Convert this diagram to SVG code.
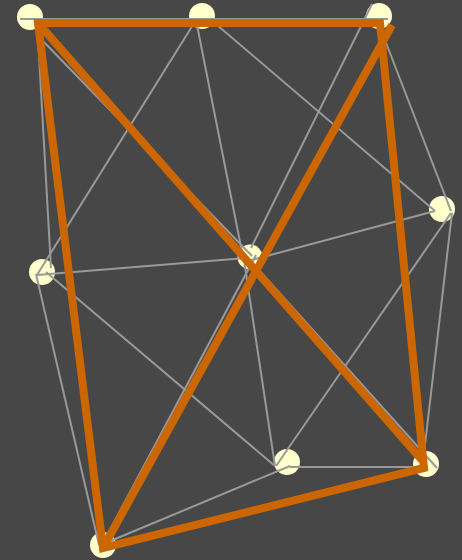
<svg xmlns="http://www.w3.org/2000/svg" width="462" height="560" viewBox="0 0 462 560">
<style>
.node{fill:#ffffcc;stroke:none}
.e{stroke:#999999;stroke-width:2;fill:none}
.o{stroke:#cc6600;stroke-width:8;fill:none;stroke-linejoin:miter}
</style>
<rect width="462" height="560" fill="#474747"/>
<g id="nodes">
<g id="A"><circle class="node" cx="30" cy="17" r="13"/></g>
<g id="B"><circle class="node" cx="202" cy="16" r="13"/></g>
<g id="C"><circle class="node" cx="379" cy="16" r="13"/></g>
<g id="D"><circle class="node" cx="442" cy="209" r="13"/></g>
<g id="E"><circle class="node" cx="250" cy="257" r="12.5"/></g>
<g id="F"><circle class="node" cx="42" cy="272" r="13"/></g>
<g id="G"><circle class="node" cx="287" cy="462" r="13"/></g>
<g id="H"><circle class="node" cx="426" cy="464" r="13"/></g>
<g id="I"><circle class="node" cx="103" cy="545" r="13"/></g>
</g>
<g id="connectors">
<line class="e" x1="20" y1="19" x2="388" y2="19"/>
<line class="e" x1="37" y1="20" x2="51" y2="268"/>
<line class="e" x1="39" y1="37" x2="252" y2="256"/>
<line class="e" x1="196" y1="20" x2="37" y2="275"/>
<line class="e" x1="196" y1="20" x2="243" y2="257"/>
<line class="e" x1="210" y1="19" x2="435" y2="211"/>
<line class="e" x1="372" y1="4" x2="251" y2="248"/>
<line class="e" x1="378" y1="22" x2="451" y2="211"/>
<line class="e" x1="37" y1="275" x2="246" y2="258"/>
<line class="e" x1="248" y1="261" x2="435" y2="211"/>
<line class="e" x1="244" y1="260" x2="275" y2="466"/>
<line class="e" x1="256" y1="255" x2="104" y2="541"/>
<line class="e" x1="250" y1="260" x2="437" y2="468"/>
<line class="e" x1="36" y1="274" x2="99" y2="545"/>
<line class="e" x1="46" y1="272" x2="275" y2="466"/>
<line class="e" x1="451" y1="213" x2="276" y2="466"/>
<line class="e" x1="452" y1="213" x2="423" y2="462"/>
<line class="e" x1="108" y1="542" x2="290" y2="466"/>
<line class="e" x1="290" y1="467" x2="423" y2="467"/>
<path class="o" d="M38,23 L380,23 L424,468 L103,548 Z"/>
<line class="o" x1="38" y1="23" x2="422" y2="460"/>
<line class="o" x1="103" y1="548" x2="392" y2="25"/>
</g>
</svg>
